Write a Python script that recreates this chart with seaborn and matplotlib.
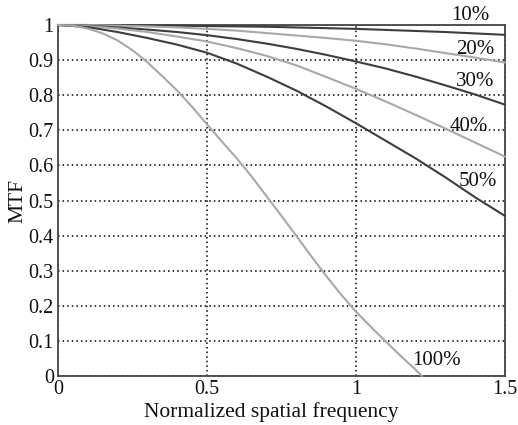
import numpy as np
import pandas as pd
import matplotlib
matplotlib.use("Agg")
import matplotlib.pyplot as plt
import seaborn as sns

# ---- data ----
freq = [0.0, 0.1, 0.2, 0.3, 0.4, 0.5, 0.6, 0.7, 0.8, 0.9, 1.0, 1.1, 1.2, 1.3, 1.4, 1.5]
mtf_10 = [1.0, 1.0, 0.999, 0.999, 0.998, 0.997, 0.996, 0.995, 0.993, 0.991, 0.989, 0.986, 0.983, 0.980, 0.976, 0.972]
mtf_20 = [1.0, 1.0, 0.998, 0.996, 0.993, 0.989, 0.984, 0.977, 0.970, 0.963, 0.955, 0.945, 0.933, 0.920, 0.907, 0.893]
mtf_30 = [1.0, 0.998, 0.993, 0.987, 0.980, 0.971, 0.960, 0.947, 0.932, 0.915, 0.896, 0.876, 0.853, 0.828, 0.802, 0.773]
mtf_40 = [1.0, 0.997, 0.990, 0.980, 0.967, 0.953, 0.934, 0.912, 0.885, 0.852, 0.818, 0.782, 0.744, 0.705, 0.665, 0.625]
mtf_50 = [1.0, 0.994, 0.980, 0.963, 0.944, 0.921, 0.890, 0.853, 0.813, 0.768, 0.720, 0.670, 0.620, 0.566, 0.509, 0.456]
freq_100 = [0.0, 0.05, 0.1, 0.15, 0.2, 0.25, 0.3, 0.35, 0.4, 0.45, 0.5, 0.55, 0.6, 0.65,
            0.7, 0.75, 0.8, 0.85, 0.9, 0.95, 1.0, 1.05, 1.1, 1.15, 1.2, 1.221]
mtf_100 = [1.0, 0.998, 0.990, 0.976, 0.956, 0.928, 0.894, 0.854, 0.813, 0.767, 0.717, 0.668, 0.620, 0.568,
           0.512, 0.456, 0.399, 0.341, 0.285, 0.232, 0.183, 0.140, 0.098, 0.057, 0.018, 0.0]

series_names = ["10%", "20%", "30%", "40%", "50%", "100%"]
label_x = [1.385, 1.40, 1.40, 1.38, 1.41, 1.27]
label_y = [1.028, 0.929, 0.838, 0.712, 0.553, 0.045]

x_ticks = [0, 0.5, 1, 1.5]
x_tick_labels = ["0", "0.5", "1", "1.5"]
y_ticks = [0, 0.1, 0.2, 0.3, 0.4, 0.5, 0.6, 0.7, 0.8, 0.9, 1.0]
y_tick_labels = ["0", "0.1", "0.2", "0.3", "0.4", "0.5", "0.6", "0.7", "0.8", "0.9", "1"]

dark = "#3d3d3d"
light = "#a8a8a8"

sns.set_theme(style="white")
plt.rcParams["font.family"] = ["Liberation Serif", "DejaVu Serif"]

fig = plt.figure(figsize=(5.18, 4.25), dpi=100)
ax = fig.add_axes([58 / 518, 49 / 425, 447 / 518, 351 / 425])

curves = [
    (freq, mtf_10, dark),
    (freq, mtf_20, light),
    (freq, mtf_30, dark),
    (freq, mtf_40, light),
    (freq, mtf_50, dark),
    (freq_100, mtf_100, light),
]
for (xs, ys, c), name in zip(curves, series_names):
    df = pd.DataFrame({"x": xs, "y": ys})
    sns.lineplot(data=df, x="x", y="y", ax=ax, color=c, linewidth=1.5, clip_on=False, zorder=3)

for name, lx, ly in zip(series_names, label_x, label_y):
    ax.text(lx, ly, name, fontsize=15, ha="center", va="center", color="#111111", zorder=5)

ax.set_xlim(0, 1.5)
ax.set_ylim(0, 1)
ax.set_xticks(x_ticks)
ax.set_xticklabels(x_tick_labels)
ax.set_yticks(y_ticks)
ax.set_yticklabels(y_tick_labels)
ax.tick_params(axis="both", direction="in", length=3, width=1, labelsize=14.5, pad=3,
               colors="#444444", labelcolor="#111111")
ax.grid(True, color="black", linestyle=(0, (1, 2)), linewidth=1.1)
ax.set_axisbelow(True)
for s in ax.spines.values():
    s.set_visible(True)
    s.set_color("#444444")
    s.set_linewidth(1.3)
ax.set_xlabel("Normalized spatial frequency", fontsize=15.5, labelpad=-1, color="#111111")
ax.xaxis.set_label_coords((271 - 58) / 447, -0.075)
ax.set_ylabel("MTF", fontsize=15.5, labelpad=0, color="#111111")
ax.yaxis.set_label_coords((27 - 58) / 447, (376 - 201) / 351)

fig.savefig("out.png", dpi=100, facecolor="white")
